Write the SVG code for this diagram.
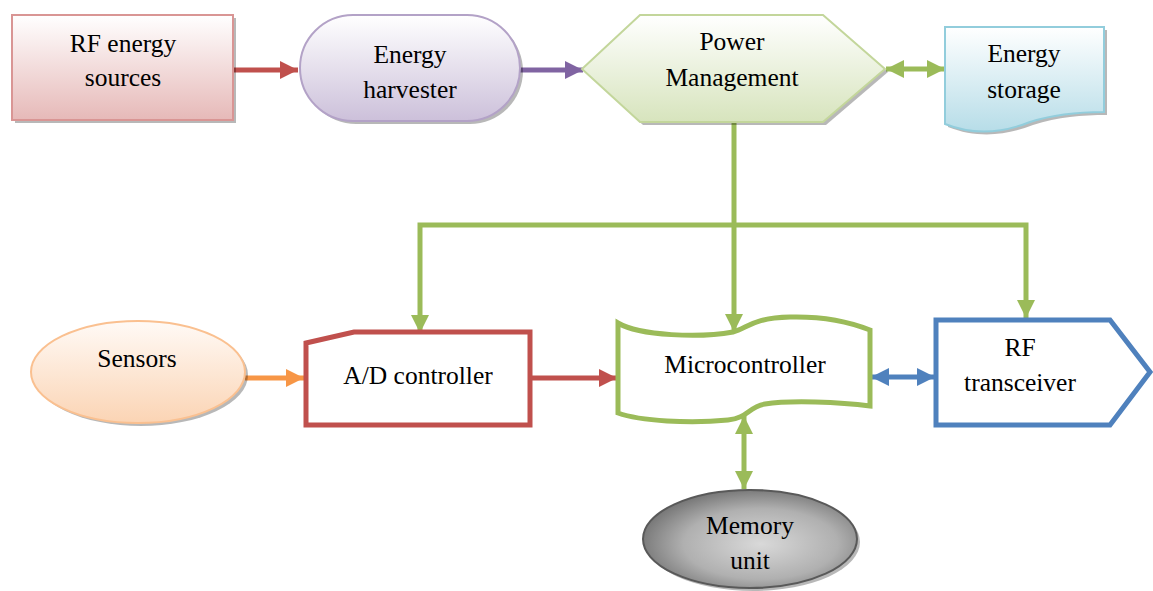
<svg xmlns="http://www.w3.org/2000/svg" width="1153" height="591" viewBox="0 0 1153 591">
<defs>
<linearGradient id="gRed" x1="0" y1="0" x2="0" y2="1"><stop offset="0" stop-color="#ffffff"/><stop offset="1" stop-color="#e6b9b8"/></linearGradient>
<linearGradient id="gPur" x1="0" y1="0" x2="0" y2="1"><stop offset="0" stop-color="#ffffff"/><stop offset="1" stop-color="#ccc0da"/></linearGradient>
<linearGradient id="gGrn" x1="0" y1="0" x2="0" y2="1"><stop offset="0" stop-color="#ffffff"/><stop offset="1" stop-color="#d7e4bd"/></linearGradient>
<linearGradient id="gBlu" x1="0" y1="0" x2="0" y2="1"><stop offset="0" stop-color="#ffffff"/><stop offset="1" stop-color="#b7dde8"/></linearGradient>
<linearGradient id="gOrg" x1="0" y1="0" x2="0" y2="1"><stop offset="0" stop-color="#fffaf6"/><stop offset="1" stop-color="#fbd4b4"/></linearGradient>
<radialGradient id="gGray" cx="0.55" cy="0.55" r="0.6"><stop offset="0" stop-color="#d9d9d9"/><stop offset="0.6" stop-color="#b0b0b0"/><stop offset="1" stop-color="#6e6e6e"/></radialGradient>
<marker id="aRed" markerUnits="userSpaceOnUse" markerWidth="20" markerHeight="20" refX="18" refY="9" orient="auto-start-reverse"><path d="M0,0 L18,9 L0,18 Z" fill="#c0504d"/></marker>
<marker id="aPur" markerUnits="userSpaceOnUse" markerWidth="20" markerHeight="20" refX="18" refY="9" orient="auto-start-reverse"><path d="M0,0 L18,9 L0,18 Z" fill="#8064a2"/></marker>
<marker id="aGrn" markerUnits="userSpaceOnUse" markerWidth="20" markerHeight="20" refX="18" refY="9" orient="auto-start-reverse"><path d="M0,0 L18,9 L0,18 Z" fill="#9bbb59"/></marker>
<marker id="aOrg" markerUnits="userSpaceOnUse" markerWidth="20" markerHeight="20" refX="18" refY="9" orient="auto-start-reverse"><path d="M0,0 L18,9 L0,18 Z" fill="#f79646"/></marker>
<marker id="aBlu" markerUnits="userSpaceOnUse" markerWidth="20" markerHeight="20" refX="18" refY="9" orient="auto-start-reverse"><path d="M0,0 L18,9 L0,18 Z" fill="#4f81bd"/></marker>
</defs>
<style>
.shadow{fill:#000;opacity:0.28}
.ln{fill:none;stroke-width:5}
</style>
<rect width="1153" height="591" fill="#ffffff"/>
<g id="connectors">
<line class="ln" x1="233" y1="70" x2="298" y2="70" stroke="#c0504d" marker-end="url(#aRed)"/>
<line class="ln" x1="520" y1="70" x2="583" y2="70" stroke="#8064a2" marker-end="url(#aPur)"/>
<line class="ln" x1="886" y1="69" x2="945" y2="69" stroke="#9bbb59" marker-start="url(#aGrn)" marker-end="url(#aGrn)"/>
<line class="ln" x1="734" y1="122" x2="734" y2="332" stroke="#9bbb59" marker-end="url(#aGrn)"/>
<polyline class="ln" points="420,333 420,225 1026,225 1026,318" stroke="#9bbb59" marker-start="url(#aGrn)" marker-end="url(#aGrn)"/>
<line class="ln" x1="245" y1="378" x2="304" y2="378" stroke="#f79646" marker-end="url(#aOrg)"/>
<line class="ln" x1="531" y1="378" x2="617" y2="378" stroke="#c0504d" marker-end="url(#aRed)"/>
<line class="ln" x1="871" y1="377" x2="935" y2="377" stroke="#4f81bd" marker-start="url(#aBlu)" marker-end="url(#aBlu)"/>
<line class="ln" x1="744" y1="416" x2="744" y2="489" stroke="#9bbb59" marker-start="url(#aGrn)" marker-end="url(#aGrn)"/>
</g>
<g font-family="'Liberation Serif', 'Times New Roman', serif" font-size="25.5" fill="#000" text-anchor="middle">
<g id="rf-energy-sources">
<rect class="shadow" x="15" y="18" width="221" height="105"/>
<rect x="12" y="15" width="221" height="105" fill="url(#gRed)" stroke="#d99594" stroke-width="2"/>
<text x="123" y="52">RF energy</text>
<text x="123" y="86">sources</text>
</g>
<g id="energy-harvester">
<rect class="shadow" x="303" y="18" width="220" height="106" rx="53"/>
<rect x="300" y="15" width="220" height="106" rx="53" fill="url(#gPur)" stroke="#b3a2c7" stroke-width="2"/>
<text x="410" y="63">Energy</text>
<text x="410" y="98">harvester</text>
</g>
<g id="power-management">
<polygon class="shadow" points="585,72 643,18 826,18 888,72 826,125 643,125"/>
<polygon points="582,69 640,15 823,15 885,69 823,122 640,122" fill="url(#gGrn)" stroke="#c3d69b" stroke-width="2"/>
<text x="732" y="50">Power</text>
<text x="732" y="86">Management</text>
</g>
<g id="energy-storage">
<path class="shadow" d="M948,30 L1107,30 L1107,115 C1082,115 1058,117 1033,125 C1008,135 978,139 948,127 Z"/>
<path d="M945,27 L1104,27 L1104,112 C1079,112 1055,114 1030,122 C1005,132 975,136 945,124 Z" fill="url(#gBlu)" stroke="#92cddc" stroke-width="2"/>
<text x="1024" y="62">Energy</text>
<text x="1024" y="98">storage</text>
</g>
<g id="sensors">
<ellipse class="shadow" cx="141" cy="375" rx="107" ry="51"/>
<ellipse cx="138" cy="372" rx="107" ry="51" fill="url(#gOrg)" stroke="#fac090" stroke-width="2"/>
<text x="137" y="367">Sensors</text>
</g>
<g id="ad-controller">
<polygon points="306,343 354,332 530,332 530,425 306,425" fill="#ffffff" stroke="#c0504d" stroke-width="5"/>
<text x="418" y="384">A/D controller</text>
</g>
<g id="microcontroller">
<path d="M618,323 C640,336 700,338 733,332 C748,328 752,318 790,317 C830,316 855,324 870,330 L870,406 C840,402 790,400 765,404 C748,407 748,418 728,420 C690,424 640,421 618,413 Z" fill="#ffffff" stroke="#9bbb59" stroke-width="5"/>
<text x="745" y="373">Microcontroller</text>
</g>
<g id="rf-transceiver">
<polygon points="936,320 1110,320 1150,372 1110,425 936,425" fill="#ffffff" stroke="#4f81bd" stroke-width="5"/>
<text x="1020" y="356">RF</text>
<text x="1020" y="391">transceiver</text>
</g>
<g id="memory-unit">
<ellipse class="shadow" cx="753" cy="542" rx="107" ry="49"/>
<ellipse cx="750" cy="539" rx="107" ry="49" fill="url(#gGray)" stroke="#595959" stroke-width="2"/>
<text x="750" y="534">Memory</text>
<text x="750" y="569">unit</text>
</g>
</g>
</svg>
